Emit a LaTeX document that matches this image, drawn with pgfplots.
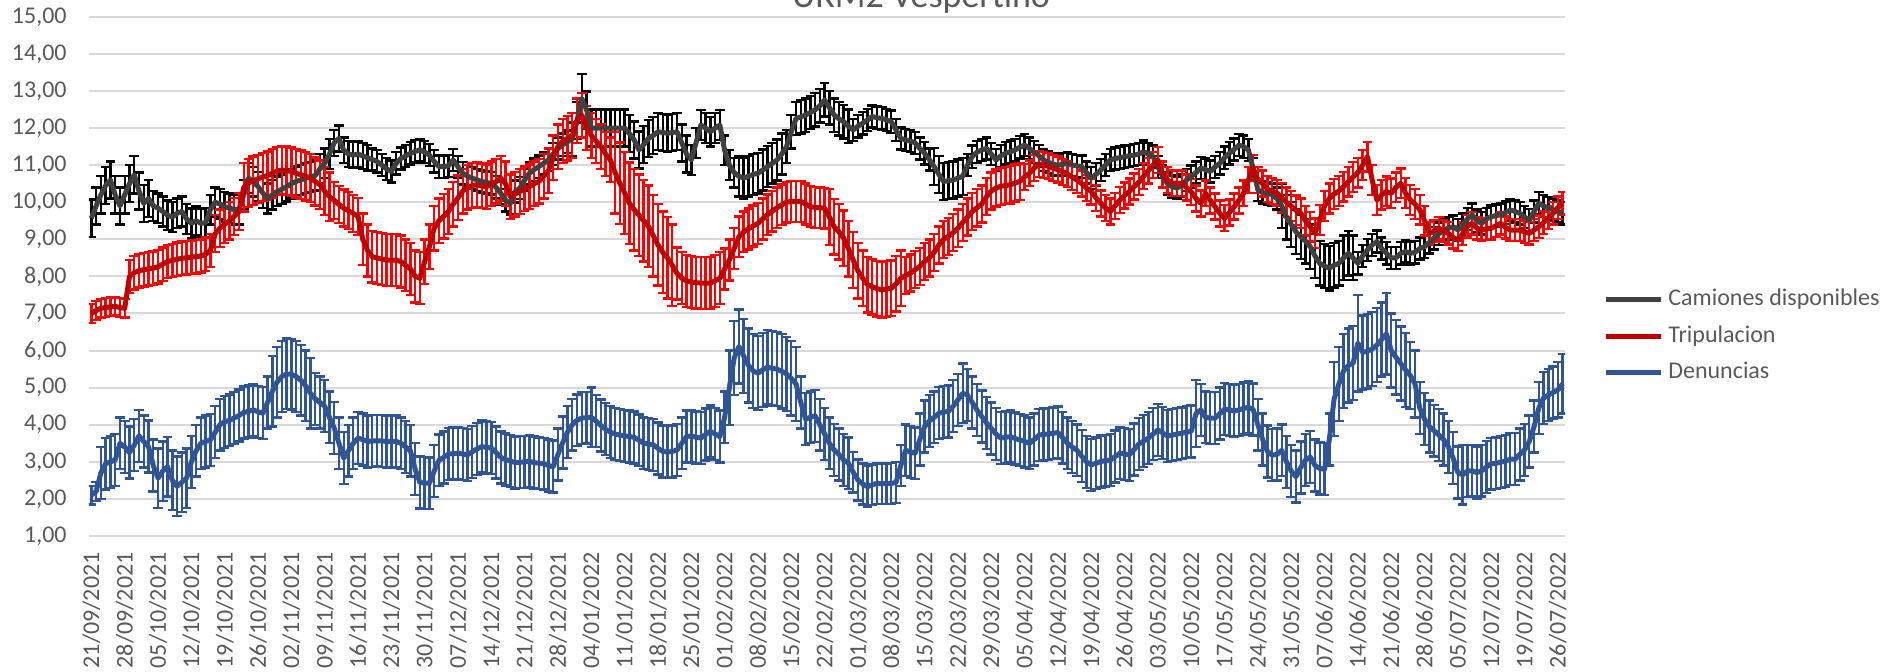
\documentclass[border=0pt]{standalone}
\usepackage{fontspec}
\setmainfont{Carlito}
\usepackage{pgfplots}
\usepackage{pgfplotstable}
\pgfplotsset{compat=1.18}
\definecolor{txt}{HTML}{595959}
\definecolor{gridc}{HTML}{D9D9D9}
\definecolor{camline}{HTML}{404040}
\definecolor{tripline}{HTML}{C00000}
\definecolor{triperr}{HTML}{FF0000}
\definecolor{denc}{HTML}{2F5597}

\pgfplotstableread[row sep=\\]{v e\\
9.57 .5\\ 9.9 .5\\ 10.2 .5\\ 10.45 .5\\ 10.6 .5\\ 10.2 .5\\ 9.9 .5\\ 10.2 .5\\ 10.5 .5\\ 10.74 .5\\
10.3 .5\\ 9.97 .5\\ 10.1 .5\\ 9.9 .4\\ 9.84 .4\\ 9.75 .4\\ 9.65 .4\\ 9.6 .4\\ 9.7 .4\\ 9.75 .4\\
9.55 .4\\ 9.43 .4\\ 9.5 .4\\ 9.43 .4\\ 9.45 .4\\ 9.8 .4\\ 10.0 .4\\ 9.95 .4\\ 9.88 .4\\ 9.84 .4\\
9.8 .4\\ 9.8 .4\\ 10.2 .4\\ 10.65 .4\\ 10.55 .4\\ 10.42 .4\\ 10.25 .4\\ 10.1 .4\\ 10.2 .4\\ 10.29 .4\\
10.35 .4\\ 10.42 .4\\ 10.5 .4\\ 10.56 .4\\ 10.6 .4\\ 10.65 .4\\ 10.68 .4\\ 10.72 .4\\ 10.9 .4\\ 11.05 .4\\
11.3 .4\\ 11.6 .35\\ 11.72 .35\\ 11.4 .35\\ 11.3 .35\\ 11.27 .35\\ 11.3 .35\\ 11.25 .35\\ 11.2 .35\\ 11.15 .3\\
11.1 .3\\ 11.0 .3\\ 10.9 .3\\ 10.83 .3\\ 11.05 .3\\ 11.18 .3\\ 11.25 .3\\ 11.32 .3\\ 11.37 .3\\ 11.41 .3\\
11.35 .3\\ 11.27 .3\\ 11.1 .3\\ 10.96 .3\\ 10.96 .3\\ 10.98 .3\\ 11.14 .3\\ 10.95 .3\\ 10.78 .3\\ 10.7 .3\\
10.65 .3\\ 10.6 .3\\ 10.56 .3\\ 10.53 .3\\ 10.51 .3\\ 10.4 .3\\ 10.24 .3\\ 10.05 .3\\ 9.97 .3\\ 10.29 .3\\
10.38 .3\\ 10.6 .3\\ 10.78 .3\\ 10.88 .3\\ 10.96 .3\\ 11.05 .3\\ 11.14 .3\\ 11.3 .3\\ 11.45 .3\\ 11.55 .3\\
11.63 .3\\ 11.7 .45\\ 12.2 .5\\ 12.8 .65\\ 12.49 .5\\ 12.0 .5\\ 12.0 .5\\ 12.0 .5\\ 12.0 .5\\ 12.0 .5\\
12.0 .5\\ 12.0 .5\\ 12.0 .5\\ 11.85 .5\\ 11.68 .5\\ 11.41 .5\\ 11.55 .5\\ 11.72 .5\\ 11.8 .5\\ 11.9 .5\\
11.88 .5\\ 11.86 .5\\ 11.88 .5\\ 11.9 .5\\ 11.6 .5\\ 11.3 .5\\ 11.14 .4\\ 11.6 .4\\ 12.08 .4\\ 12.0 .4\\
11.9 .4\\ 12.0 .4\\ 12.08 .4\\ 11.4 .4\\ 11.0 .4\\ 10.8 .4\\ 10.7 .55\\ 10.65 .55\\ 10.7 .55\\ 10.75 .55\\
10.78 .55\\ 10.87 .55\\ 10.96 .55\\ 11.05 .55\\ 11.14 .55\\ 11.3 .55\\ 11.5 .45\\ 11.9 .45\\ 12.26 .45\\ 12.3 .45\\
12.35 .45\\ 12.42 .45\\ 12.49 .45\\ 12.6 .45\\ 12.76 .45\\ 12.55 .45\\ 12.35 .45\\ 12.25 .45\\ 12.17 .45\\ 12.05 .45\\
11.95 .3\\ 12.05 .3\\ 12.13 .3\\ 12.22 .3\\ 12.31 .3\\ 12.28 .3\\ 12.26 .3\\ 12.22 .3\\ 12.17 .3\\ 11.95 .3\\
11.72 .3\\ 11.68 .3\\ 11.65 .3\\ 11.6 .3\\ 11.45 .3\\ 11.32 .3\\ 11.15 .3\\ 10.96 .5\\ 10.75 .5\\ 10.56 .5\\
10.58 .5\\ 10.6 .5\\ 10.65 .5\\ 10.7 .5\\ 11.0 .3\\ 11.23 .3\\ 11.35 .3\\ 11.41 .3\\ 11.45 .3\\ 11.3 .3\\
11.14 .3\\ 11.25 .3\\ 11.32 .3\\ 11.36 .3\\ 11.41 .3\\ 11.48 .3\\ 11.54 .3\\ 11.45 .3\\ 11.35 .3\\ 11.25 .3\\
11.14 .3\\ 11.08 .3\\ 11.02 .3\\ 11.0 .3\\ 11.02 .3\\ 11.05 .3\\ 11.0 .3\\ 10.98 .3\\ 10.96 .3\\ 10.8 .3\\
10.65 .3\\ 10.75 .3\\ 10.87 .3\\ 11.0 .3\\ 11.14 .3\\ 11.18 .3\\ 11.2 .3\\ 11.23 .3\\ 11.25 .3\\ 11.27 .3\\
11.3 .3\\ 11.36 .3\\ 11.3 .3\\ 11.23 .3\\ 10.95 .3\\ 10.7 .3\\ 10.5 .3\\ 10.42 .3\\ 10.38 .3\\ 10.45 .3\\
10.6 .3\\ 10.69 .3\\ 10.8 .3\\ 10.92 .3\\ 10.88 .3\\ 10.83 .3\\ 10.95 .3\\ 11.05 .3\\ 11.2 .3\\ 11.32 .3\\
11.42 .3\\ 11.54 .3\\ 11.5 .3\\ 11.41 .3\\ 10.9 .3\\ 10.33 .3\\ 10.26 .3\\ 10.24 .3\\ 10.2 .3\\ 10.1 .3\\
9.9 .6\\ 9.6 .6\\ 9.4 .6\\ 9.2 .6\\ 9.07 .6\\ 8.95 .6\\ 8.8 .6\\ 8.55 .6\\ 8.35 .6\\ 8.28 .6\\
8.22 .6\\ 8.3 .6\\ 8.35 .6\\ 8.5 .6\\ 8.62 .6\\ 8.5 .6\\ 8.35 .3\\ 8.55 .3\\ 8.71 .3\\ 8.85 .3\\
8.94 .3\\ 8.75 .3\\ 8.62 .3\\ 8.5 .3\\ 8.5 .3\\ 8.62 .3\\ 8.67 .3\\ 8.62 .3\\ 8.65 .3\\ 8.75 .3\\
8.8 .3\\ 8.92 .3\\ 9.03 .3\\ 9.15 .3\\ 9.25 .3\\ 9.3 .3\\ 9.34 .3\\ 9.25 .3\\ 9.4 .3\\ 9.55 .3\\
9.66 .3\\ 9.5 .3\\ 9.43 .3\\ 9.55 .3\\ 9.61 .3\\ 9.64 .3\\ 9.66 .3\\ 9.72 .3\\ 9.79 .3\\ 9.75 .3\\
9.7 .3\\ 9.6 .3\\ 9.52 .3\\ 9.75 .3\\ 9.97 .3\\ 9.9 .3\\ 9.84 .3\\ 9.8 .3\\ 9.75 .3\\ 9.7 .3\\
}\cam

\pgfplotstableread[row sep=\\]{v e\\
7.0 .25\\ 7.08 .25\\ 7.14 .25\\ 7.16 .25\\ 7.18 .25\\ 7.19 .25\\ 7.16 .25\\ 7.14 .25\\ 8.0 .45\\ 8.1 .45\\
8.15 .45\\ 8.18 .45\\ 8.2 .45\\ 8.22 .45\\ 8.26 .45\\ 8.33 .45\\ 8.4 .45\\ 8.43 .45\\ 8.46 .45\\ 8.49 .45\\
8.5 .45\\ 8.52 .45\\ 8.53 .45\\ 8.55 .45\\ 8.6 .45\\ 8.7 .45\\ 9.15 .5\\ 9.3 .5\\ 9.4 .5\\ 9.5 .5\\
9.62 .5\\ 9.75 .5\\ 10.4 .65\\ 10.52 .65\\ 10.58 .65\\ 10.63 .65\\ 10.68 .65\\ 10.72 .65\\ 10.78 .65\\ 10.84 .65\\
10.87 .65\\ 10.85 .65\\ 10.83 .65\\ 10.78 .65\\ 10.74 .65\\ 10.7 .65\\ 10.65 .65\\ 10.56 .65\\ 10.47 .65\\ 10.3 .65\\
10.15 .65\\ 10.05 .5\\ 9.94 .5\\ 9.84 .5\\ 9.77 .5\\ 9.7 .5\\ 9.62 .5\\ 9.0 .7\\ 8.7 .7\\ 8.53 .7\\
8.5 .7\\ 8.47 .7\\ 8.44 .7\\ 8.44 .7\\ 8.44 .7\\ 8.4 .7\\ 8.3 .7\\ 8.2 .7\\ 8.0 .7\\ 7.95 .7\\
8.4 .6\\ 8.8 .6\\ 9.3 .6\\ 9.5 .6\\ 9.62 .6\\ 9.75 .6\\ 9.95 .6\\ 10.12 .6\\ 10.3 .6\\ 10.4 .6\\
10.45 .6\\ 10.47 .6\\ 10.44 .6\\ 10.42 .6\\ 10.5 .6\\ 10.56 .6\\ 10.65 .6\\ 10.5 .6\\ 10.15 .6\\ 10.22 .6\\
10.29 .6\\ 10.36 .6\\ 10.42 .6\\ 10.5 .6\\ 10.56 .6\\ 10.7 .6\\ 10.85 .6\\ 11.2 .6\\ 11.5 .6\\ 11.65 .6\\
11.72 .6\\ 11.8 .6\\ 12.2 .6\\ 12.35 .6\\ 12.0 .6\\ 11.8 .6\\ 11.65 .6\\ 11.5 .6\\ 11.3 .6\\ 11.14 .6\\
10.8 1.1\\ 10.51 1.1\\ 10.25 1.1\\ 9.97 1.1\\ 9.8 1.1\\ 9.65 1.1\\ 9.5 1.1\\ 9.35 1.1\\ 9.1 1.1\\ 8.85 1.1\\
8.65 1.1\\ 8.5 1.1\\ 8.3 1.1\\ 8.08 .7\\ 7.95 .7\\ 7.88 .7\\ 7.85 .7\\ 7.83 .7\\ 7.82 .7\\ 7.82 .7\\
7.82 .7\\ 7.88 .7\\ 7.95 .7\\ 8.2 .55\\ 8.44 .55\\ 8.75 .55\\ 9.07 .55\\ 9.2 .55\\ 9.28 .55\\ 9.36 .55\\
9.43 .55\\ 9.55 .55\\ 9.66 .55\\ 9.76 .55\\ 9.85 .55\\ 9.93 .55\\ 10.0 .55\\ 10.02 .55\\ 10.02 .55\\ 10.02 .55\\
9.95 .55\\ 9.88 .55\\ 9.86 .55\\ 9.85 .55\\ 9.84 .55\\ 9.6 .75\\ 9.34 .75\\ 9.2 .75\\ 9.03 .75\\ 8.75 .75\\
8.44 .75\\ 8.15 .75\\ 7.95 .75\\ 7.78 .75\\ 7.72 .75\\ 7.67 .75\\ 7.64 .75\\ 7.66 .75\\ 7.68 .75\\ 7.8 .75\\
7.95 .75\\ 8.02 .5\\ 8.09 .5\\ 8.18 .5\\ 8.27 .5\\ 8.4 .5\\ 8.5 .5\\ 8.65 .5\\ 8.85 .5\\ 9.0 .5\\
9.08 .5\\ 9.18 .5\\ 9.3 .5\\ 9.45 .5\\ 9.6 .5\\ 9.75 .5\\ 9.85 .5\\ 9.95 .5\\ 10.15 .5\\ 10.3 .5\\
10.38 .5\\ 10.43 .5\\ 10.45 .5\\ 10.47 .5\\ 10.52 .5\\ 10.56 .5\\ 10.68 .35\\ 10.78 .35\\ 10.92 .35\\ 11.03 .35\\
11.0 .35\\ 10.97 .35\\ 10.92 .35\\ 10.88 .35\\ 10.82 .35\\ 10.76 .35\\ 10.68 .35\\ 10.6 .35\\ 10.5 .35\\ 10.38 .35\\
10.29 .35\\ 10.12 .35\\ 9.97 .35\\ 9.85 .35\\ 9.75 .35\\ 9.9 .35\\ 10.06 .35\\ 10.18 .35\\ 10.29 .35\\ 10.42 .35\\
10.54 .35\\ 10.7 .35\\ 10.85 .35\\ 11.0 .35\\ 11.14 .35\\ 10.75 .35\\ 10.6 .35\\ 10.52 .35\\ 10.51 .35\\ 10.51 .35\\
10.4 .35\\ 10.28 .35\\ 10.1 .35\\ 9.97 .35\\ 10.24 .35\\ 10.05 .35\\ 9.88 .35\\ 9.7 .35\\ 9.57 .35\\ 9.72 .35\\
9.88 .35\\ 10.05 .35\\ 10.24 .35\\ 10.6 .35\\ 10.92 .35\\ 10.6 .35\\ 10.5 .35\\ 10.35 .35\\ 10.3 .35\\ 10.25 .35\\
10.12 .4\\ 10.0 .4\\ 9.9 .4\\ 9.78 .4\\ 9.7 .4\\ 9.5 .4\\ 9.34 .4\\ 9.16 .4\\ 9.52 .4\\ 9.9 .4\\
10.1 .4\\ 10.22 .4\\ 10.3 .4\\ 10.42 .4\\ 10.55 .4\\ 10.68 .4\\ 10.8 .4\\ 11.0 .4\\ 11.23 .4\\ 10.6 .4\\
10.06 .4\\ 10.2 .4\\ 10.29 .4\\ 10.24 .4\\ 10.4 .4\\ 10.51 .4\\ 10.25 .4\\ 10.06 .4\\ 9.95 .4\\ 9.8 .4\\
9.5 .4\\ 9.16 .3\\ 9.22 .3\\ 9.3 .3\\ 9.22 .3\\ 9.16 .3\\ 9.05 .3\\ 8.98 .3\\ 9.15 .3\\ 9.35 .3\\
9.43 .3\\ 9.3 .3\\ 9.25 .3\\ 9.28 .3\\ 9.3 .3\\ 9.36 .3\\ 9.43 .3\\ 9.32 .3\\ 9.25 .3\\ 9.25 .3\\
9.25 .3\\ 9.2 .3\\ 9.16 .3\\ 9.25 .3\\ 9.34 .3\\ 9.45 .3\\ 9.58 .3\\ 9.7 .3\\ 9.85 .3\\ 9.97 .3\\
}\trip

\pgfplotstableread[row sep=\\]{v e\\
2.1 .25\\ 2.2 .25\\ 2.7 .7\\ 2.95 .7\\ 3.0 .7\\ 3.05 .7\\ 3.5 .7\\ 3.4 .7\\ 3.25 .7\\ 3.45 .7\\
3.7 .7\\ 3.55 .7\\ 3.41 .7\\ 2.9 .7\\ 2.56 .8\\ 2.75 .8\\ 2.87 .8\\ 2.5 .8\\ 2.34 .8\\ 2.45 .8\\
2.56 .8\\ 3.0 .7\\ 3.3 .7\\ 3.5 .7\\ 3.55 .7\\ 3.59 .7\\ 3.8 .7\\ 4.0 .7\\ 4.08 .7\\ 4.12 .7\\
4.18 .7\\ 4.25 .7\\ 4.33 .7\\ 4.36 .7\\ 4.4 .7\\ 4.35 .7\\ 4.31 .7\\ 4.6 .7\\ 4.9 .95\\ 5.15 .95\\
5.3 .95\\ 5.37 .95\\ 5.36 .95\\ 5.3 .95\\ 5.2 .95\\ 5.05 .95\\ 4.85 .95\\ 4.7 .7\\ 4.6 .7\\ 4.5 .7\\
4.2 .7\\ 3.91 .7\\ 3.5 .7\\ 3.1 .7\\ 3.3 .7\\ 3.5 .7\\ 3.64 .7\\ 3.6 .7\\ 3.55 .7\\ 3.56 .7\\
3.57 .7\\ 3.56 .7\\ 3.55 .7\\ 3.55 .7\\ 3.55 .7\\ 3.5 .7\\ 3.4 .7\\ 3.3 .7\\ 2.8 .7\\ 2.44 .7\\
2.43 .7\\ 2.42 .7\\ 2.75 .7\\ 3.04 .7\\ 3.12 .7\\ 3.21 .7\\ 3.22 .7\\ 3.23 .7\\ 3.21 .7\\ 3.19 .7\\
3.27 .7\\ 3.35 .7\\ 3.41 .7\\ 3.39 .7\\ 3.37 .7\\ 3.25 .7\\ 3.12 .7\\ 3.06 .7\\ 3.02 .7\\ 2.98 .7\\
2.99 .7\\ 3.0 .7\\ 3.01 .7\\ 2.98 .7\\ 2.96 .7\\ 2.95 .7\\ 2.9 .7\\ 2.87 .7\\ 3.2 .7\\ 3.52 .7\\
3.8 .7\\ 4.0 .7\\ 4.12 .7\\ 4.18 .7\\ 4.19 .7\\ 4.2 .8\\ 4.1 .7\\ 3.98 .7\\ 3.88 .7\\ 3.8 .7\\
3.75 .7\\ 3.72 .7\\ 3.7 .7\\ 3.68 .7\\ 3.66 .7\\ 3.58 .7\\ 3.5 .7\\ 3.48 .7\\ 3.46 .7\\ 3.36 .7\\
3.28 .7\\ 3.26 .7\\ 3.28 .7\\ 3.32 .7\\ 3.5 .7\\ 3.68 .7\\ 3.7 .7\\ 3.66 .7\\ 3.64 .7\\ 3.74 .7\\
3.82 .7\\ 3.75 .7\\ 3.68 .7\\ 4.2 .7\\ 5.0 1.0\\ 5.8 1.0\\ 6.11 1.0\\ 5.85 1.0\\ 5.6 1.0\\ 5.45 1.0\\
5.39 1.0\\ 5.48 1.0\\ 5.55 1.0\\ 5.52 1.0\\ 5.5 1.0\\ 5.44 1.0\\ 5.37 1.0\\ 5.25 1.0\\ 5.1 1.0\\ 4.6 .7\\
4.15 .7\\ 4.2 .7\\ 4.24 .7\\ 4.0 .7\\ 3.75 .7\\ 3.5 .7\\ 3.32 .7\\ 3.2 .7\\ 3.05 .7\\ 2.96 .7\\
2.72 .55\\ 2.51 .55\\ 2.4 .55\\ 2.33 .55\\ 2.38 .55\\ 2.42 .55\\ 2.41 .55\\ 2.41 .55\\ 2.42 .55\\ 2.44 .55\\
2.9 .55\\ 3.31 .7\\ 3.27 .7\\ 3.23 .7\\ 3.6 .7\\ 3.95 .7\\ 4.1 .7\\ 4.2 .7\\ 4.31 .7\\ 4.34 .7\\
4.36 .7\\ 4.5 .7\\ 4.67 .7\\ 4.85 .8\\ 4.8 .7\\ 4.6 .7\\ 4.4 .7\\ 4.22 .7\\ 4.05 .7\\ 3.9 .7\\
3.75 .7\\ 3.64 .7\\ 3.66 .7\\ 3.68 .7\\ 3.63 .7\\ 3.59 .7\\ 3.55 .7\\ 3.5 .7\\ 3.6 .7\\ 3.72 .7\\
3.74 .7\\ 3.75 .7\\ 3.77 .7\\ 3.79 .7\\ 3.65 .7\\ 3.5 .7\\ 3.4 .7\\ 3.31 .7\\ 3.15 .7\\ 3.0 .7\\
2.92 .7\\ 2.96 .7\\ 3.01 .7\\ 3.03 .7\\ 3.05 .7\\ 3.14 .7\\ 3.23 .7\\ 3.21 .7\\ 3.19 .7\\ 3.33 .7\\
3.48 .7\\ 3.56 .7\\ 3.64 .7\\ 3.75 .7\\ 3.86 .7\\ 3.78 .7\\ 3.7 .7\\ 3.72 .7\\ 3.75 .7\\ 3.77 .7\\
3.8 .7\\ 3.82 .7\\ 4.3 .9\\ 4.4 .7\\ 4.2 .7\\ 4.18 .7\\ 4.18 .7\\ 4.3 .7\\ 4.42 .7\\ 4.4 .7\\
4.37 .7\\ 4.4 .7\\ 4.44 .7\\ 4.47 .7\\ 4.41 .7\\ 4.0 .7\\ 3.6 .7\\ 3.28 .7\\ 3.18 .7\\ 3.2 .7\\
3.31 .7\\ 3.0 .7\\ 2.75 .7\\ 2.6 .7\\ 2.85 .7\\ 3.05 .7\\ 3.13 .7\\ 2.9 .7\\ 2.82 .7\\ 2.8 .7\\
3.6 .7\\ 4.69 1.0\\ 5.1 1.0\\ 5.45 1.0\\ 5.6 1.0\\ 5.66 1.0\\ 6.2 1.3\\ 5.95 1.0\\ 5.98 1.0\\ 6.04 1.0\\
6.15 1.0\\ 6.3 1.0\\ 6.45 1.1\\ 6.0 1.0\\ 5.82 1.0\\ 5.65 1.0\\ 5.48 1.0\\ 5.33 .9\\ 5.1 .9\\ 4.45 .7\\
4.15 .7\\ 3.95 .7\\ 3.84 .7\\ 3.72 .7\\ 3.6 .7\\ 3.4 .7\\ 3.1 .7\\ 2.71 .7\\ 2.65 .8\\ 2.75 .7\\
2.76 .7\\ 2.71 .7\\ 2.76 .7\\ 2.86 .7\\ 2.95 .7\\ 2.96 .7\\ 2.99 .7\\ 3.02 .7\\ 3.07 .7\\ 3.07 .7\\
3.2 .7\\ 3.32 .7\\ 3.55 .7\\ 3.95 .7\\ 4.45 .7\\ 4.72 .7\\ 4.8 .7\\ 4.87 .7\\ 4.94 .75\\ 5.1 .8\\
}\den

\begin{document}
\begin{tikzpicture}
\useasboundingbox (0,0) rectangle (947.5pt,336pt);
\begin{axis}[
  at={(44.5pt,68pt)}, anchor=south west,
  scale only axis, width=738pt, height=259.6pt,
  xmin=-0.5, xmax=309.5, ymin=1, ymax=15,
  ytick={1,2,...,15},
  xtick={0,7,...,308},
  xticklabels={21/09/2021,28/09/2021,05/10/2021,12/10/2021,19/10/2021,26/10/2021,02/11/2021,09/11/2021,16/11/2021,23/11/2021,30/11/2021,07/12/2021,14/12/2021,21/12/2021,28/12/2021,04/01/2022,11/01/2022,18/01/2022,25/01/2022,01/02/2022,08/02/2022,15/02/2022,22/02/2022,01/03/2022,08/03/2022,15/03/2022,22/03/2022,29/03/2022,05/04/2022,12/04/2022,19/04/2022,26/04/2022,03/05/2022,10/05/2022,17/05/2022,24/05/2022,31/05/2022,07/06/2022,14/06/2022,21/06/2022,28/06/2022,05/07/2022,12/07/2022,19/07/2022,26/07/2022},
  axis line style={draw=none},
  major tick length=0pt,
  ymajorgrids, grid style={gridc, line width=1pt},
  tick label style={font=\fontsize{12}{14}\selectfont, text=txt},
  yticklabel={\pgfmathprintnumber[fixed,fixed zerofill,precision=2,use comma,assume math mode=true]{\tick}},
  yticklabel style={anchor=east, inner sep=0pt, xshift=-11pt},
  xticklabel style={rotate=90, anchor=east, inner xsep=8pt, inner ysep=0pt},
  title={URM2 Vespertino},
  title style={at={(axis description cs:0.5637,1.0170)}, anchor=base, yshift=-6pt, font=\fontsize{18}{21}\selectfont, text=txt, inner sep=0pt},
  legend style={at={(1.0257,0.385)}, anchor=west, draw=none, fill=none, inner sep=0pt, row sep=5pt,
    nodes={inner sep=1pt, text height=8.6pt, text depth=2.6pt, font=\fontsize{12}{14}\selectfont, text=txt},
    /tikz/every odd column/.append style={column sep=1.5pt}},
  legend cell align=left,
  legend image code/.code={\draw[#1, line width=2.5pt] (0pt,0pt) -- (27.5pt,0pt);},
]
\addplot[draw=none, mark=none, forget plot,
  error bars/.cd, y dir=both, y explicit,
  error bar style={draw=black, line width=1.2pt},
  error mark=-,
  error mark options={draw=black, line width=1.2pt, mark size=2.4pt, rotate=90}]
  table[x expr=\coordindex, y=v, y error=e]{\cam};
\addplot[draw=none, mark=none, forget plot,
  error bars/.cd, y dir=both, y explicit,
  error bar style={draw=triperr, line width=1.2pt},
  error mark=-,
  error mark options={draw=triperr, line width=1.2pt, mark size=2.4pt, rotate=90}]
  table[x expr=\coordindex, y=v, y error=e]{\trip};
\addplot[draw=none, mark=none, forget plot,
  error bars/.cd, y dir=both, y explicit,
  error bar style={draw=denc, line width=1.2pt},
  error mark=-,
  error mark options={draw=denc, line width=1.2pt, mark size=2.4pt, rotate=90}]
  table[x expr=\coordindex, y=v, y error=e]{\den};

\addplot[camline, line width=2.5pt, mark=none, line join=round] table[x expr=\coordindex, y=v]{\cam};
\addlegendentry{Camiones disponibles}
\addplot[tripline, line width=2.5pt, mark=none, line join=round] table[x expr=\coordindex, y=v]{\trip};
\addlegendentry{Tripulacion}
\addplot[denc, line width=2.5pt, mark=none, line join=round] table[x expr=\coordindex, y=v]{\den};
\addlegendentry{Denuncias}
\end{axis}
\end{tikzpicture}
\end{document}
